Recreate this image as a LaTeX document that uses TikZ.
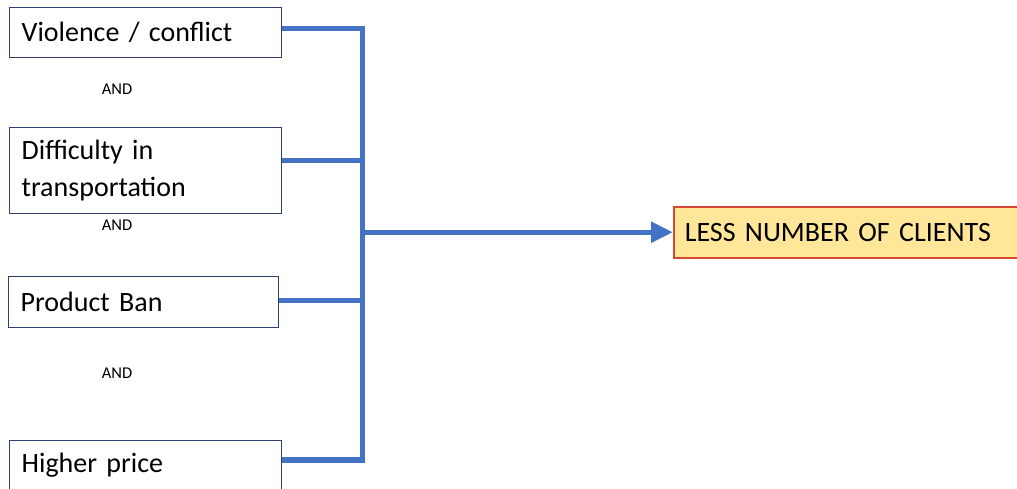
\documentclass[tikz,border=0pt]{standalone}
\usepackage{fontspec}
\setmainfont{Carlito}
\usetikzlibrary{arrows.meta}
\definecolor{boxline}{RGB}{47,64,110}
\definecolor{busblue}{RGB}{68,114,196}
\definecolor{resfill}{RGB}{255,230,153}
\definecolor{resline}{RGB}{214,72,52}
\tikzset{
  cause/.style={draw=boxline, line width=1.3pt, fill=white, anchor=north west,
    inner xsep=12pt, inner ysep=0pt, align=left,
    font=\fontsize{28}{37}\selectfont},
  result/.style={draw=resline, line width=1.5pt, fill=resfill, anchor=north west,
    inner xsep=11pt, inner ysep=0pt, align=left,
    font=\fontsize{28}{34}\selectfont},
  andlabel/.style={font=\fontsize{16.5}{20}\selectfont, inner sep=0pt},
  bus/.style={draw=busblue, line width=5.5pt, line join=miter},
}
\begin{document}
\begin{tikzpicture}[x=1pt,y=-1pt]
\useasboundingbox (0,0) rectangle (1017,488);
\clip (0,0) rectangle (1017,488);

% causes
\node[cause, minimum width=272pt, minimum height=50pt, text width=248pt] (b1) at (9,7) {Violence / conflict};
\node[cause, minimum width=272pt, minimum height=86pt, text width=248pt] (b2) at (9,127) {Difficulty in\\transportation};
\node[cause, minimum width=270pt, minimum height=51pt, text width=246pt] (b3) at (8,276) {Product Ban};
\node[cause, minimum width=272pt, minimum height=50pt, text width=248pt] (b4) at (9,440) {Higher price};

% AND labels between the causes
\node[andlabel] (a1) at (117,89) {AND};
\node[andlabel] (a2) at (117,225) {AND};
\node[andlabel] (a3) at (117,373) {AND};

% effect
\node[result, minimum width=360pt, minimum height=51pt, text width=338pt] (out) at (673,206) {LESS NUMBER OF CLIENTS};

% collecting bus
\coordinate (bus) at (361,0);
\draw[bus] ([yshift=4pt]b1.east) -- ++(80,0) |- ([yshift=5.5pt]b4.east);
\draw[bus] ([yshift=10pt]b2.east) -- ++(80,0);
\draw[bus] ([yshift=1.5pt]b3.east) -- ++(83,0);
\draw[bus, -{Triangle[length=22pt,width=20pt]}] (bus |- out.west) -- (out.west);
\end{tikzpicture}
\end{document}
